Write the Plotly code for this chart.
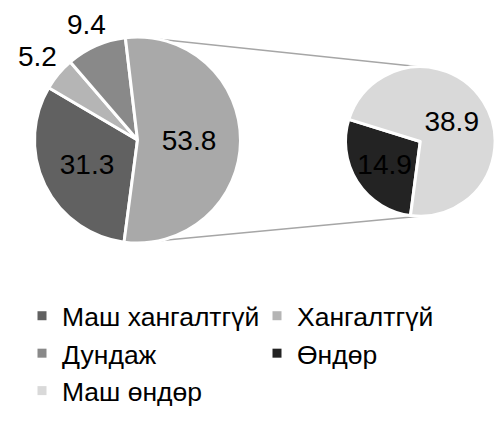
import math
import plotly.graph_objects as go

# Main pie: first three categories plus the combined "high" share
main_labels = ["Маш хангалтгүй", "Хангалтгүй", "Дундаж", "Өндөр + Маш өндөр"]
main_values = [31.3, 5.2, 9.4, 53.8]
main_colors = ["#616161", "#b5b5b5", "#898989", "#a9a9a9"]
main_outside = [False, True, True, False]

# Secondary pie: breakdown of the combined share
sub_labels = ["Өндөр", "Маш өндөр"]
sub_values = [14.9, 38.9]
sub_colors = ["#232323", "#d9d9d9"]

# Legend entries (five categories)
legend_labels = ["Маш хангалтгүй", "Хангалтгүй", "Дундаж", "Өндөр", "Маш өндөр"]
legend_colors = ["#616161", "#b5b5b5", "#898989", "#232323", "#d9d9d9"]

W, H = 495, 423
FONT = "Liberation Sans, Arial, sans-serif"
LABEL_SIZE = 28
ROTATION = 187.5

# pie placement in pixels (domain boxes)
main_box = (34.5, 240.5, 37.0, 243.0)     # x0, x1, y0(top), y1(bottom)
sub_box = (345.5, 495.0, 65.0, 218.0)


def dom(box):
    x0, x1, y0, y1 = box
    return dict(x=[x0 / W, x1 / W], y=[1 - y1 / H, 1 - y0 / H])


def geom(box):
    x0, x1, y0, y1 = box
    r = min(x1 - x0, y1 - y0) / 2
    return (x0 + x1) / 2, (y0 + y1) / 2, r


fig = go.Figure()

main_text = [("" if out else f"{v:.1f}") for v, out in zip(main_values, main_outside)]

fig.add_trace(go.Pie(
    labels=main_labels, values=main_values, sort=False, direction="clockwise",
    rotation=ROTATION, domain=dom(main_box),
    marker=dict(colors=main_colors, line=dict(color="white", width=3)),
    text=main_text, textinfo="text", textposition="inside",
    insidetextorientation="horizontal",
    textfont=dict(family=FONT, size=LABEL_SIZE, color="black"),
    showlegend=False, hoverinfo="skip",
))

fig.add_trace(go.Pie(
    labels=sub_labels, values=sub_values, sort=False, direction="clockwise",
    rotation=ROTATION, domain=dom(sub_box),
    marker=dict(colors=sub_colors, line=dict(color="white", width=3)),
    texttemplate="%{value:.1f}", textposition="inside",
    insidetextorientation="horizontal",
    textfont=dict(family=FONT, size=LABEL_SIZE, color="black"),
    showlegend=False, hoverinfo="skip",
))

for name, col in zip(legend_labels, legend_colors):
    fig.add_trace(go.Scatter(
        x=[None], y=[None], mode="markers", name=name,
        marker=dict(symbol="square", size=9, color=col),
        hoverinfo="skip",
    ))

cx1, cy1, r1 = geom(main_box)
cx2, cy2, r2 = geom(sub_box)

# outside labels for the narrow slices, placed along each slice's mid-angle
total = sum(main_values)
start = ROTATION
for v, out in zip(main_values, main_outside):
    sweep = 360 * v / total
    mid = math.radians(start + sweep / 2)
    start += sweep
    if not out:
        continue
    ux, uy = math.sin(mid), -math.cos(mid)
    txt = f"{v:.1f}"
    half_w = 0.556 * LABEL_SIZE * (len(txt) - 0.5) / 2
    half_h = 0.72 * LABEL_SIZE / 2
    d = r1 + 6 + abs(ux) * half_w + abs(uy) * half_h
    fig.add_annotation(
        x=(cx1 + ux * d) / W, y=1 - (cy1 + uy * d) / H, xref="paper", yref="paper",
        text=txt, showarrow=False, xanchor="center", yanchor="middle",
        font=dict(family=FONT, size=LABEL_SIZE, color="black"),
    )

# connector lines between the two pies
a = math.radians(12)
for sgn in (1, -1):
    xs = cx1 + r1 * math.sin(a)
    ys = cy1 - sgn * r1 * math.cos(a)
    xe = cx2 - 1
    ye = cy2 - sgn * r2
    fig.add_shape(type="line", xref="paper", yref="paper",
                  x0=xs / W, y0=1 - ys / H, x1=xe / W, y1=1 - ye / H,
                  line=dict(color="#a6a6a6", width=1.5), layer="below")

fig.update_layout(
    width=W, height=H,
    margin=dict(l=0, r=0, t=0, b=0),
    paper_bgcolor="white", plot_bgcolor="white",
    xaxis=dict(visible=False), yaxis=dict(visible=False),
    font=dict(family=FONT, color="black"),
    legend=dict(
        orientation="h", x=22 / W, xanchor="left", y=1 - 292 / H, yanchor="top",
        entrywidth=190, entrywidthmode="pixels",
        font=dict(family=FONT, size=26.5, color="black"),
        bgcolor="rgba(0,0,0,0)",
    ),
)

fig.write_html("out.html")
